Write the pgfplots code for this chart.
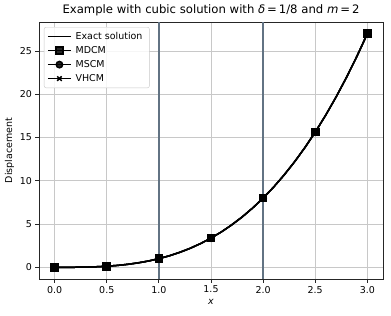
\documentclass[border=0pt]{standalone}
\usepackage{pgfplots}
\pgfplotsset{compat=1.18}
\usetikzlibrary{calc}
\usepackage{fontspec}
\setmainfont{DejaVu Sans}
\setsansfont{DejaVu Sans}
\definecolor{vline}{HTML}{627383}
\definecolor{gridc}{HTML}{C8C8C8}
\pgfplotstableread{
x y
0.0 0.0
0.1 0.001
0.2 0.008
0.3 0.027
0.4 0.064
0.5 0.125
0.6 0.216
0.7 0.343
0.8 0.512
0.9 0.729
1.0 1.0
1.1 1.331
1.2 1.728
1.3 2.197
1.4 2.744
1.5 3.375
1.6 4.096
1.7 4.913
1.8 5.832
1.9 6.859
2.0 8.0
2.1 9.261
2.2 10.648
2.3 12.167
2.4 13.824
2.5 15.625
2.6 17.576
2.7 19.683
2.8 21.952
2.9 24.389
3.0 27.0
}\exact
\pgfplotstableread{
x y
0.0 0.0
0.1 0.001
0.2 0.008
0.3 0.027
0.4 0.064
0.5 0.125
0.6 0.216
0.7 0.343
0.8 0.512
0.9 0.729
1.0 1.0
1.1 1.331
1.2 1.728
1.3 2.197
1.4 2.744
1.5 3.375
1.6 4.096
1.7 4.913
1.8 5.832
1.9 6.859
2.0 8.0
2.1 9.261
2.2 10.648
2.3 12.167
2.4 13.824
2.5 15.625
2.6 17.576
2.7 19.683
2.8 21.952
2.9 24.389
3.0 27.0
}\approxsol
\begin{document}
\begin{tikzpicture}
\begin{axis}[
  scale only axis,
  width=344bp, height=257bp,
  xmin=-0.15, xmax=3.15, ymin=-1.35, ymax=28.35,
  xtick={0,0.5,1,1.5,2,2.5,3},
  xticklabels={0.0,0.5,1.0,1.5,2.0,2.5,3.0},
  ytick={0,5,10,15,20,25},
  grid=major,
  grid style={gridc, line width=0.8pt},
  axis line style={line width=0.8pt, black!85},
  tick style={black!85, line width=0.8pt},
  tick align=outside,
  major tick length=3.5bp,
  xtick pos=bottom, ytick pos=left,
  tick label style={font=\fontsize{9.5}{11}\selectfont},
  /pgf/number format/assume math mode=true,
  xlabel={\textit{x}},
  ylabel={Displacement},
  xlabel style={yshift=1bp},
  ylabel style={yshift=-1bp},
  label style={font=\fontsize{9.5}{11}\selectfont},
  title={Example with cubic solution with \textit{δ}\,=\,1/8 and \textit{m}\,=\,2},
  title style={font=\fontsize{11.7}{13}\selectfont, yshift=-3bp},
  legend cell align=left,
  legend style={font=\fontsize{9.5}{11}\selectfont, draw=gridc, rounded corners=2pt, fill=white, fill opacity=0.85, text opacity=1, draw opacity=1, row sep=1.5pt, inner xsep=3pt, inner ysep=3pt, at={(0.0145,0.9805)}, anchor=north west, nodes={inner xsep=4pt}},
  legend image code/.code={\draw[mark repeat=2,mark phase=2] plot coordinates {(0bp,0bp) (11.5bp,0bp) (23bp,0bp)};},
]
\addplot[vline, line width=1.6pt, forget plot] coordinates {(1,-1.35) (1,28.35)};
\addplot[vline, line width=1.6pt, forget plot] coordinates {(2,-1.35) (2,28.35)};
\addplot[black, line width=1.5pt, no marks] table[x=x,y=y] {\exact};
\addlegendentry{Exact solution}
\addplot[black, line width=1.5pt, mark=square*, mark size=3.6bp, mark repeat=5, mark options={solid}] table[x=x,y=y] {\approxsol};
\addlegendentry{MDCM}
\addplot[black, line width=1.5pt, mark=*, mark size=3.2bp, mark repeat=5] table[x=x,y=y] {\approxsol};
\addlegendentry{MSCM}
\addplot[black, line width=1.5pt, mark=x, mark size=3.2bp, mark repeat=5] table[x=x,y=y] {\approxsol};
\addlegendentry{VHCM}
\end{axis}
\pgfresetboundingbox
\path ($(current axis.south west)+(-39bp,-37bp)$) rectangle ($(current axis.north east)+(8bp,22bp)$);
\end{tikzpicture}
\end{document}
